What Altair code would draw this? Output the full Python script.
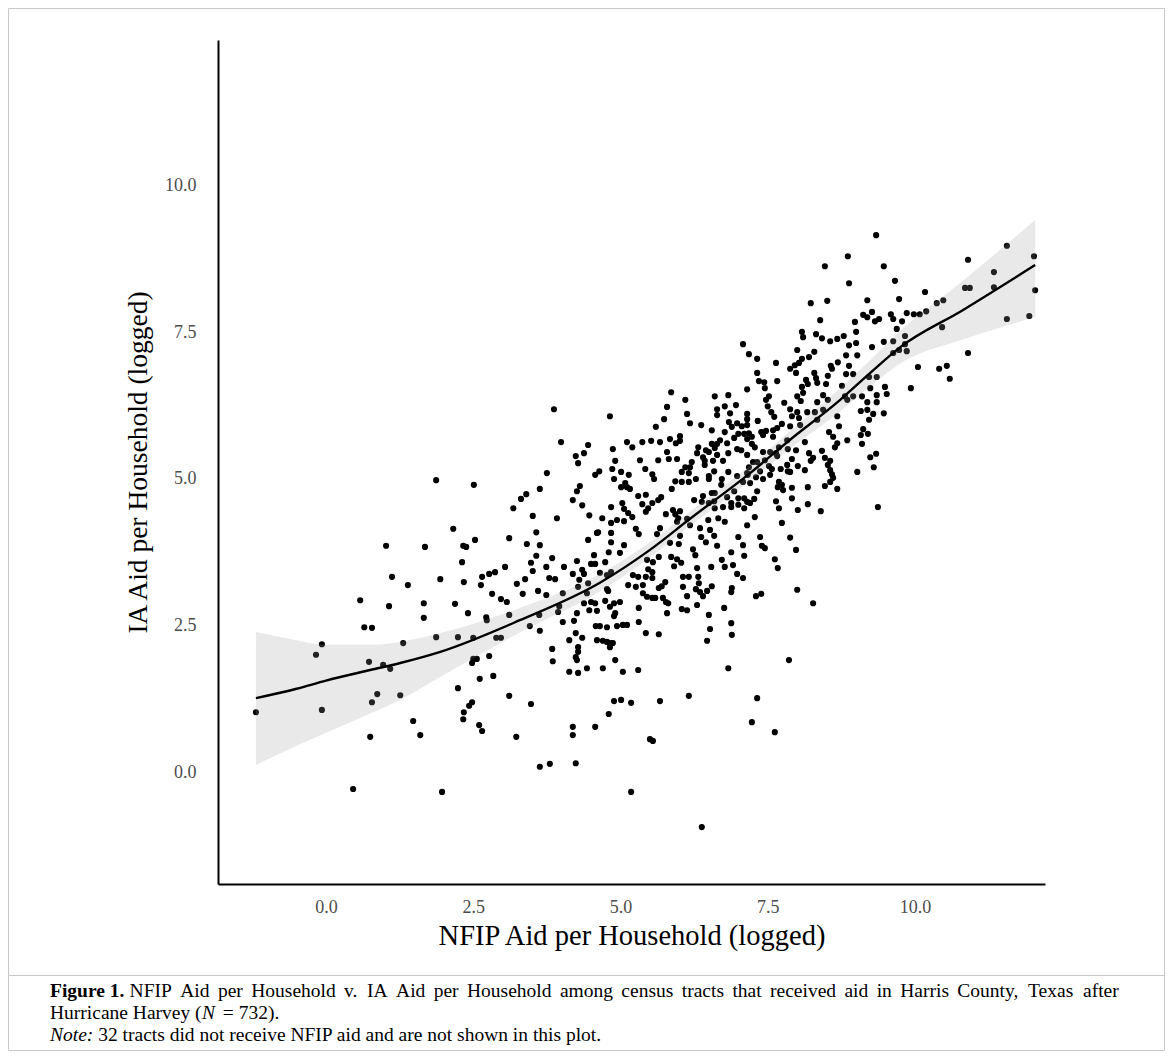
import altair as alt
import pandas as pd

# ---- scatter values (NFIP logged, IA logged) ----
left_tracts = [(-0.07,2.18),(-0.17,2.00),(0.73,1.88),(0.97,1.83),(1.09,1.76),(1.31,2.20),(-1.19,1.02),(-0.07,1.06),
 (0.87,1.33),(0.78,1.19),(1.26,1.31),(1.48,0.87),(1.60,0.63),(0.75,0.60),(0.46,-0.29),(1.97,-0.34),(1.87,4.98),
 (1.02,3.86),(1.68,3.84),(1.12,3.33),(1.94,3.29),(1.39,3.19),(0.58,2.93),(1.07,2.83),(1.66,2.88),(1.66,2.63),
 (0.65,2.47),(0.78,2.46),(1.87,2.30)]

lowmid_tracts = [(3.87,6.19),(3.99,5.63),(4.45,5.58),(4.38,5.44),(4.24,5.39),(4.28,5.27),(3.75,5.10),(4.57,5.07),(4.64,5.13),
 (2.51,4.90),(3.63,4.83),(4.31,4.88),(4.26,4.79),(3.40,4.74),(3.31,4.66),(4.19,4.64),(4.35,4.55),(3.18,4.50),(3.51,4.37),
 (3.92,4.33),(4.47,4.38),(2.16,4.15),(3.57,4.09),(4.60,4.08),(3.11,3.99),(2.53,3.96),(4.45,3.96),
 (2.33,3.86),(2.38,3.84),(3.41,3.89),(3.63,3.87),(3.57,3.69),(3.84,3.65),(4.55,3.70),(2.31,3.58),(3.48,3.57),(3.04,3.50),
 (3.74,3.50),(4.04,3.50),(4.26,3.60),(4.50,3.55),(3.51,3.43),(4.35,3.45),(2.77,3.38),(2.87,3.41),(4.19,3.38),(4.38,3.38),
 (2.65,3.33),(3.38,3.29),(3.79,3.31),(3.89,3.29),(2.34,3.24),(2.63,3.19),(3.24,3.21),(4.30,3.28),(4.45,3.22),(3.60,3.09),
 (2.82,3.04),(3.34,3.04),(3.74,3.02),(4.02,3.05),(4.28,3.16),(4.43,3.05),(2.97,2.95),(3.07,2.90),(2.19,2.87),(3.96,2.83),
 (4.38,2.88),(4.50,2.90),(4.57,2.88),(3.94,2.73),(4.26,2.71),(4.47,2.76),(4.60,2.75),(2.41,2.71),(3.11,2.68),(3.62,2.68),
 (2.72,2.64),(2.73,2.59),(4.02,2.56),(4.21,2.58),(3.46,2.49),(4.58,2.49),(3.63,2.41),(4.24,2.37),(2.24,2.30),(2.50,2.29),
 (2.89,2.29),(2.97,2.29),(4.13,2.25),(4.35,2.29),(4.60,2.25),(4.28,2.13),(3.84,2.10),(4.28,2.05),(4.24,1.96),(2.77,1.98),
 (2.50,1.93),(2.56,1.93),(2.48,1.86),(3.85,1.89),(4.26,1.91),(4.43,1.77),(4.13,1.71),(4.28,1.69),(2.84,1.64),(2.61,1.59),
 (2.24,1.43),(3.11,1.30),(3.48,1.16),(2.48,1.19),(2.43,1.13),(2.34,1.02),(2.33,0.90),(2.60,0.80),(2.65,0.70),(3.23,0.60),
 (4.19,0.77),(4.19,0.63),(4.57,0.77),(3.63,0.09),(3.80,0.14),(4.24,0.15)]

mid_tracts = [(5.86,6.48),(6.10,6.35),(6.60,6.41),(6.83,6.43),(5.79,6.23),(4.82,6.07),(6.13,6.11),(5.74,6.02),(6.64,6.19),
 (6.77,6.24),(6.96,6.26),(6.86,6.12),(7.15,6.11),(6.64,6.09),(6.18,5.95),(6.37,5.92),(6.84,5.97),(6.98,5.95),(6.89,5.89),
 (7.06,5.90),(7.15,5.92),(5.60,5.89),(6.55,5.83),(6.77,5.80),(7.00,5.77),(7.10,5.77),(6.01,5.73),(5.84,5.68),(6.93,5.70),
 (7.15,5.68),(5.11,5.63),(5.37,5.63),(5.52,5.65),(5.67,5.63),(5.94,5.61),(6.01,5.65),(6.69,5.66),(6.55,5.60),(6.64,5.60),
 (6.81,5.61),(5.20,5.54),(4.87,5.51),(6.32,5.54),(6.45,5.49),(6.60,5.53),(6.98,5.51),(5.79,5.46),(6.30,5.44),(6.50,5.46),
 (6.83,5.44),(7.05,5.49),(5.64,5.32),(5.82,5.34),(5.96,5.34),(6.40,5.37),(6.64,5.41),(5.33,5.32),(4.91,5.31),(6.21,5.29),
 (6.43,5.31),(6.57,5.31),(6.74,5.31),(6.10,5.20),(6.18,5.20),(6.43,5.24),(5.42,5.17),(4.86,5.17),(5.01,5.12),(6.04,5.12),
 (6.16,5.10),(6.59,5.13),(6.83,5.12),(5.54,5.08),(5.14,5.07),(6.50,5.05),(7.15,5.10),(4.89,5.00),(5.57,5.00),(5.93,4.96),
 (6.04,4.95),(6.16,4.95),(6.28,5.00),(6.50,5.00),(6.72,5.00),(6.98,5.05),(5.08,4.93),(5.11,4.86),(5.01,4.86),(5.16,4.83),
 (5.87,4.83),(6.71,4.90),(6.93,4.79),(6.55,4.76),(6.60,4.76),(5.30,4.71),(5.43,4.73),(5.69,4.69),(6.40,4.71),(6.81,4.69),
 (7.00,4.67),(7.10,4.67),(5.03,4.59),(5.37,4.57),(5.54,4.59),(5.64,4.64),(6.25,4.64),(6.38,4.61),(6.50,4.59),(6.59,4.62),
 (6.88,4.59),(7.00,4.56),(7.10,4.50),(4.84,4.52),(5.06,4.49),(5.47,4.50),(6.60,4.50),(6.74,4.52),(6.88,4.52),(5.13,4.42),
 (5.43,4.44),(5.89,4.47),(6.01,4.45),(5.20,4.35),(5.77,4.40),(5.93,4.40),(5.98,4.33),(4.69,4.33),(4.94,4.30),(5.06,4.28),
 (6.13,4.32),(6.49,4.30),(6.66,4.33),(6.77,4.27),(4.84,4.25),(5.96,4.27),(6.18,4.21),(7.15,4.21),(5.67,4.16),(6.35,4.16),
 (5.26,4.15),(6.52,4.13),(4.62,4.09),(4.84,4.08),(5.31,4.06),(5.62,4.06),(6.01,4.03),(6.59,4.03),(6.37,4.01),(7.00,4.01),
 (4.84,3.92),(5.84,3.91),(5.99,3.89),(6.45,3.92),(6.64,3.86),(5.06,3.87),(7.08,3.87),(6.23,3.80),
 (4.57,3.55),(4.74,3.58),(4.80,3.75),(4.99,3.74),(5.45,3.62),(5.55,3.58),(5.65,3.67),(5.86,3.67),(5.96,3.63),(5.91,3.51),
 (6.03,3.57),(6.27,3.70),(6.30,3.48),(6.54,3.50),(6.72,3.62),(6.88,3.75),(6.91,3.53),(7.10,3.69),(6.77,3.50),(4.65,3.40),
 (4.77,3.36),(4.84,3.41),(5.21,3.36),(5.30,3.33),(5.47,3.46),(5.54,3.41),(5.43,3.33),(5.54,3.31),(6.06,3.33),(6.16,3.33),
 (6.32,3.33),(6.98,3.38),(7.08,3.31),(5.76,3.24),(5.13,3.19),(5.26,3.16),(5.38,3.19),(5.65,3.14),(5.70,3.17),(6.06,3.16),
 (6.28,3.12),(6.33,3.22),(6.55,3.17),(6.89,3.14),(4.77,3.12),(4.79,3.09),(5.38,3.05),(6.35,3.07),(6.47,3.09),(6.88,3.07),
 (6.13,3.00),(6.40,3.00),(5.45,2.99),(5.54,2.97),(5.59,2.97),(5.72,2.97),(5.77,2.90),(5.81,2.88),(4.74,2.92),(4.89,2.88),
 (4.99,2.90),(4.82,2.82),(6.30,2.85),(5.31,2.80),(6.04,2.78),(6.13,2.76),(6.76,2.80),(4.91,2.71),(4.89,2.66),(5.79,2.71),
 (6.50,2.68),(5.31,2.56),(6.88,2.54),(4.65,2.49),(4.77,2.47),(4.94,2.49),(5.04,2.51),(5.11,2.51),(6.52,2.44),(5.43,2.37),
 (5.65,2.35),(6.89,2.34),(4.70,2.24),(4.77,2.22),(4.84,2.20),(4.87,2.20),(4.82,2.13),(6.47,2.24),(4.91,1.91),(4.70,1.77),
 (5.04,1.71),(5.30,1.74),(6.83,1.77),(4.89,1.21),(5.01,1.23),(5.18,1.18),(5.67,1.21),(6.16,1.30),(4.80,0.99),(5.50,0.56),
 (5.55,0.53),(5.18,-0.34),(6.38,-0.94)]

upper_tracts = [(9.34,9.16),(8.86,8.80),(8.47,8.63),(9.47,8.63),(8.88,8.34),(9.66,8.38),(8.23,8.00),(8.51,8.04),(9.19,8.05),
 (9.73,8.07),(8.39,7.71),(8.98,7.68),(9.12,7.80),(9.19,7.76),(9.27,7.85),(9.32,7.69),(9.39,7.73),(9.59,7.81),(9.63,7.73),
 (9.69,7.56),(8.08,7.51),(8.10,7.42),(8.32,7.47),(8.42,7.40),(8.56,7.35),(8.68,7.39),(8.79,7.44),(9.00,7.51),(9.00,7.32),
 (8.88,7.28),(9.47,7.34),(9.63,7.35),(7.08,7.30),(9.27,7.25),(8.00,7.20),(8.29,7.17),(7.18,7.13),(8.83,7.11),(9.02,7.11),
 (9.63,7.15),(7.32,7.05),(8.08,7.05),(8.20,7.08),(8.03,6.98),(7.64,6.98),(8.69,6.99),(8.57,6.93),(8.88,6.93),(7.88,6.88),
 (7.96,6.94),(7.32,6.81),(7.98,6.81),(8.29,6.81),(8.59,6.88),(8.83,6.79),(8.95,6.79),(7.35,6.67),(7.44,6.65),(7.66,6.67),
 (8.15,6.69),(8.32,6.72),(8.52,6.76),(8.34,6.64),(9.22,6.74),(9.35,6.74),(7.45,6.55),(8.08,6.57),(8.18,6.62),(8.49,6.62),
 (8.76,6.59),(9.24,6.55),(9.49,6.57),(7.15,6.53),(7.52,6.41),(8.00,6.41),(8.10,6.47),(8.44,6.43),(8.81,6.41),(8.95,6.41),
 (9.10,6.41),(9.35,6.43),(9.52,6.45),
 (7.47,6.35),(7.78,6.30),(8.06,6.33),(8.34,6.31),(8.52,6.35),(8.85,6.35),(9.19,6.31),(9.35,6.31),(7.50,6.24),(7.88,6.19),
 (7.56,6.14),(8.00,6.14),(8.17,6.14),(8.30,6.14),(8.44,6.18),(8.68,6.07),(9.08,6.16),(9.19,6.18),(9.29,6.11),(9.47,6.12),
 (7.61,6.06),(7.91,6.07),(7.15,6.02),(7.33,5.99),(8.03,6.04),(8.34,6.01),(9.22,6.01),(7.74,5.94),(7.88,5.90),(8.05,5.92),
 (8.71,5.90),(7.18,5.78),(7.39,5.80),(7.47,5.82),(7.59,5.83),(7.66,5.87),(9.12,5.85),(8.54,5.80),(9.08,5.75),(9.20,5.77),
 (7.23,5.72),(7.42,5.75),(7.59,5.72),(8.61,5.72),(8.85,5.66),(7.83,5.66),(8.13,5.63),(8.68,5.61),(7.23,5.60),(7.28,5.54),
 (7.69,5.54),(7.84,5.51),(7.98,5.49),(9.10,5.60),(8.64,5.54),(7.42,5.46),(7.54,5.46),(8.42,5.48),(7.64,5.44),(8.20,5.44),
 (7.15,5.41),(7.66,5.39),(8.47,5.36),(9.34,5.43),(9.24,5.37),(7.91,5.34),(8.27,5.36),(7.45,5.32),(8.23,5.31),(8.56,5.31),
 (7.25,5.29),(7.32,5.29),(7.18,5.20),(7.52,5.22),(7.83,5.24),(8.01,5.22),(8.52,5.24),(9.30,5.20),(7.37,5.13),(7.57,5.17),
 (7.72,5.17),(7.84,5.13),(8.13,5.15),(8.56,5.15),(9.02,5.12),(7.16,5.07),(7.30,5.03),(7.54,5.07),(7.88,5.12),(8.59,5.08),
 (7.42,5.00),(8.61,5.02),(7.08,4.95),(7.20,4.93),(7.69,4.95),(8.56,4.95),(7.74,4.90),(7.67,4.86),(7.91,4.85),(7.76,4.81),
 (8.18,4.86),(8.47,4.88),(8.68,4.83),(7.32,4.79),(7.91,4.67),(7.27,4.66),(7.15,4.61),(7.20,4.59),(7.64,4.62),(8.18,4.57),
 (9.37,4.52),(7.69,4.50),(8.01,4.47),(8.40,4.45),(7.28,4.35),(7.74,4.25),(7.37,4.01),(7.88,4.00),(7.40,3.86),(7.45,3.82),
 (7.98,3.79),(7.62,3.63),(7.67,3.48),(7.30,3.00),(7.39,3.04),(8.00,3.11),(8.27,2.88),(7.86,1.91),(7.32,1.26),(7.23,0.85),
 (7.62,0.68)]

right_tracts = [(11.56,8.98),(12.02,8.80),(10.90,8.74),(11.34,8.53),(10.85,8.26),(10.93,8.26),(11.34,8.27),(12.04,8.22),
 (10.17,8.19),(10.48,8.05),(10.37,8.00),(9.86,7.83),(9.98,7.81),(10.08,7.81),(10.19,7.86),(9.78,7.69),(11.56,7.73),
 (11.94,7.78),(10.46,7.59),(9.83,7.44),(9.83,7.30),(9.73,7.20),(9.86,7.18),(10.90,7.15),(10.05,6.91),(10.41,6.88),
 (10.54,6.93),(10.59,6.71),(9.93,6.55)]

# ---- smoothed fit and its confidence band ----
fit_x  = [-1.19, -0.5, 0.0, 0.75, 1.26, 1.94, 3.29, 4.65, 5.50, 6.18, 7.20, 7.88, 8.73, 9.24, 9.75, 10.81, 12.04]
fit_y  = [1.26, 1.42, 1.56, 1.74, 1.86, 2.05, 2.59, 3.23, 3.79, 4.32, 5.10, 5.67, 6.35, 6.81, 7.25, 7.88, 8.65]
fit_lo = [0.12, 0.45, 0.67, 1.00, 1.23, 1.62, 2.38, 3.08, 3.66, 4.20, 4.97, 5.52, 6.15, 6.58, 6.97, 7.38, 7.76]
fit_hi = [2.39, 2.25, 2.17, 2.17, 2.22, 2.37, 2.80, 3.38, 3.92, 4.44, 5.23, 5.82, 6.55, 7.03, 7.53, 8.38, 9.42]

x_ticks = [0.0, 2.5, 5.0, 7.5, 10.0]
y_ticks = [0.0, 2.5, 5.0, 7.5, 10.0]
x_domain = [-1.834, 12.207]
y_domain = [-1.911, 12.49]

x_title = "NFIP Aid per Household (logged)"
y_title = "IA Aid per Household (logged)"

cap_fig = "Figure 1."
cap_line1 = "NFIP Aid per Household v. IA Aid per Household among census tracts that received aid in Harris County, Texas after"
cap_line2a = "Hurricane Harvey ("
cap_line2b = "N"
cap_line2c = "= 732)."
cap_note = "Note:"
cap_line3 = "32 tracts did not receive NFIP aid and are not shown in this plot."

SERIF = "Liberation Serif"

all_pts = left_tracts + lowmid_tracts + mid_tracts + upper_tracts + right_tracts
pts = pd.DataFrame({"nfip": [p[0] for p in all_pts], "ia": [p[1] for p in all_pts]})
fit = pd.DataFrame({"nfip": fit_x, "ia": fit_y, "lo": fit_lo, "hi": fit_hi})

xscale = alt.Scale(domain=x_domain, nice=False, zero=False)
yscale = alt.Scale(domain=y_domain, nice=False, zero=False)

axis_common = dict(grid=False, ticks=False, tickSize=0, domainColor="black", domainWidth=2,
                   labelFont=SERIF, labelFontSize=18, labelColor="#4d4d4d",
                   titleFont=SERIF, titleFontWeight="normal", titleColor="black",
                   format=".1f")
xaxis = alt.Axis(values=x_ticks, labelPadding=14, titlePadding=5, titleFontSize=28.5, **axis_common)
yaxis = alt.Axis(values=y_ticks, labelPadding=22, titlePadding=12, titleFontSize=27.5, **axis_common)

X = alt.X("nfip:Q", scale=xscale, axis=xaxis, title=x_title)
Y = alt.Y("ia:Q", scale=yscale, axis=yaxis, title=y_title)

points = alt.Chart(pts).mark_circle(size=38, color="black", opacity=1).encode(x=X, y=Y)
band = alt.Chart(fit).mark_area(color="#999999", opacity=0.22, interpolate="monotone").encode(
    x=X, y=alt.Y("lo:Q", scale=yscale, axis=yaxis, title=y_title), y2="hi:Q")
line = alt.Chart(fit).mark_line(color="black", strokeWidth=2.4, interpolate="monotone").encode(x=X, y=Y)

# ---- caption (Times-metric widths of Liberation Serif, per 1000 em) ----
W_REG = {" ": 250, "a": 444, "c": 444, "d": 500, "e": 444, "g": 500, "h": 500, "i": 278, "l": 278, "m": 778,
         "n": 500, "o": 500, "p": 500, "r": 333, "s": 389, "t": 278, "u": 500, "v": 500, "x": 500, "y": 500,
         "A": 722, "C": 667, "F": 556, "H": 722, "I": 333, "N": 722, "P": 556, "T": 611, ".": 250, ",": 250}

def width(s, fs):
    return sum(W_REG.get(ch, 500) for ch in s) * fs / 1000.0

one = pd.DataFrame({"k": [0]})
def txt(s, x, y, size, weight="normal", style="normal"):
    return alt.Chart(one).mark_text(text=s, font=SERIF, fontSize=size, fontWeight=weight, fontStyle=style,
                                    align="left", baseline="alphabetic", color="black").encode(
        x=alt.value(x), y=alt.value(y))

FS = 19.5
x0 = -168          # caption left edge relative to the plot area
x_right = 904      # justified right edge of the first caption line
fig_w = 3.833 * FS  # bold "Figure 1."
cap = [txt(cap_fig, x0, 957, FS, weight="bold")]
words = cap_line1.split(" ")
start = x0 + fig_w + 0.25 * FS
total_words = sum(width(w, FS) for w in words)
gap = (x_right - start - total_words) / (len(words) - 1)
cx = start
for w in words:
    cap.append(txt(w, cx, 957, FS))
    cx += width(w, FS) + gap
cap += [
    txt(cap_line2a, x0, 979, FS),
    txt(cap_line2b, x0 + 7.774 * FS + 0.5, 979, FS, style="italic"),
    txt(cap_line2c, x0 + 7.774 * FS + 0.667 * FS + 0.42 * FS, 979, FS),
    txt(cap_note, x0, 1001, FS, style="italic"),
    txt(cap_line3, x0 + 2.222 * FS + 0.25 * FS, 1001, FS),
]

frame = alt.Chart(one).mark_rect(fill=None, stroke="#c8c8c8", strokeWidth=1).encode(
    x=alt.value(-209.5), x2=alt.value(946.5), y=alt.value(-31.5), y2=alt.value(1010.5))
sep = alt.Chart(one).mark_rule(stroke="#c8c8c8", strokeWidth=1).encode(
    x=alt.value(-209.5), x2=alt.value(946.5), y=alt.value(935.5))

chart = alt.layer(points, band, line, frame, sep, *cap).properties(
    width=827, height=844, padding={"left": 210, "top": 32, "right": 120, "bottom": 167},
    autosize=alt.AutoSizeParams(type="none"),
).configure(background="white").configure_view(strokeWidth=0, stroke=None)

chart.save("out.html", embed_options={"renderer": "svg", "actions": False})
